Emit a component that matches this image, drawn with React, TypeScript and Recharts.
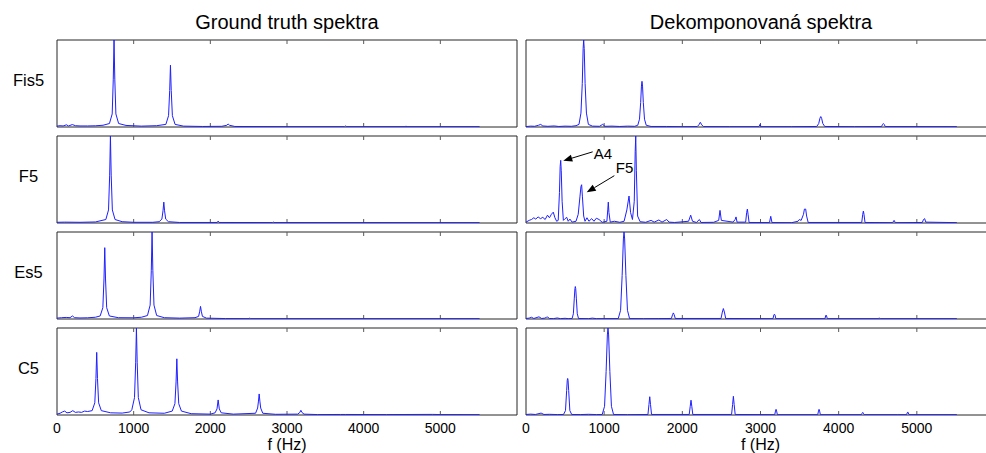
import React from 'react';
import { LineChart, Line, XAxis, YAxis, ReferenceLine, ReferenceArea } from 'recharts';

// ---------- tick labels, categories, titles ----------
const X_TICKS = [0, 1000, 2000, 3000, 4000, 5000];
const X_DOMAIN: [number, number] = [0, 6000];
const Y_DOMAIN: [number, number] = [0, 1];
const ROW_LABELS = ['Fis5', 'F5', 'Es5', 'C5'];
const COLUMN_TITLES = ['Ground truth spektra', 'Dekomponovaná spektra'];
const X_TITLE = 'f (Hz)';

// ---------- ground truth spectra: [frequency Hz, normalised magnitude] ----------
const GT_FIS5: [number, number][] = [
  [0, 0.01], [40, 0.015], [80, 0.012], [123, 0.025], [150, 0.012], [200, 0.028], [240, 0.015], [300, 0.012],
  [400, 0.012], [500, 0.014], [600, 0.02], [684, 0.04], [720, 0.15], [734, 0.55], [744, 1.0], [754, 0.55],
  [768, 0.15], [804, 0.04], [900, 0.018], [1100, 0.01], [1300, 0.015], [1420, 0.03], [1455, 0.13], [1470, 0.42],
  [1480, 0.71], [1490, 0.42], [1505, 0.13], [1540, 0.03], [1650, 0.01], [1900, 0.006], [2150, 0.008], [2215, 0.02],
  [2232, 0.035], [2250, 0.02], [2320, 0.006], [3000, 0.004], [3750, 0.004], [3765, 0.012], [3780, 0.004],
  [4540, 0.004], [4552, 0.01], [4565, 0.004], [5512, 0.004],
];
const GT_F5: [number, number][] = [
  [0, 0.008], [100, 0.01], [300, 0.008], [500, 0.012], [637, 0.04], [672, 0.15], [687, 0.55], [697, 1.0],
  [707, 0.55], [722, 0.15], [757, 0.04], [850, 0.015], [1000, 0.008], [1250, 0.008], [1333, 0.015], [1368, 0.045],
  [1383, 0.14], [1393, 0.24], [1403, 0.14], [1418, 0.045], [1453, 0.015], [1600, 0.006], [2090, 0.006],
  [2102, 0.022], [2114, 0.006], [2810, 0.005], [2820, 0.012], [2830, 0.005], [5512, 0.004],
];
const GT_ES5: [number, number][] = [
  [0, 0.01], [60, 0.015], [120, 0.018], [170, 0.015], [201, 0.035], [230, 0.015], [300, 0.012], [400, 0.014],
  [500, 0.02], [563, 0.035], [598, 0.13], [613, 0.46], [623, 0.82], [633, 0.46], [648, 0.13], [683, 0.035],
  [800, 0.015], [1000, 0.014], [1100, 0.02], [1180, 0.04], [1215, 0.16], [1230, 0.56], [1240, 1.0], [1250, 0.56],
  [1265, 0.16], [1300, 0.04], [1400, 0.015], [1600, 0.01], [1800, 0.015], [1847, 0.03], [1862, 0.09], [1872, 0.145],
  [1882, 0.09], [1897, 0.03], [1950, 0.01], [2200, 0.005], [2505, 0.004], [2516, 0.012], [2527, 0.004], [5512, 0.004],
];
const GT_C5: [number, number][] = [
  [0, 0.01], [40, 0.02], [70, 0.035], [100, 0.045], [130, 0.025], [170, 0.03], [206, 0.05], [240, 0.03],
  [280, 0.035], [320, 0.03], [360, 0.045], [400, 0.04], [458, 0.05], [493, 0.14], [508, 0.42], [518, 0.72],
  [528, 0.42], [543, 0.14], [578, 0.05], [700, 0.025], [850, 0.022], [950, 0.035], [976, 0.06], [1011, 0.2],
  [1026, 0.6], [1036, 1.0], [1046, 0.6], [1061, 0.2], [1096, 0.06], [1200, 0.025], [1400, 0.02], [1503, 0.045],
  [1538, 0.13], [1553, 0.38], [1563, 0.646], [1573, 0.38], [1588, 0.13], [1623, 0.045], [1750, 0.015], [2000, 0.01],
  [2062, 0.025], [2087, 0.07], [2102, 0.173], [2117, 0.07], [2142, 0.025], [2300, 0.01], [2590, 0.02], [2617, 0.08],
  [2628, 0.16], [2637, 0.242], [2646, 0.16], [2657, 0.08], [2684, 0.02], [2850, 0.008], [3140, 0.01], [3168, 0.03],
  [3181, 0.054], [3194, 0.03], [3222, 0.01], [3400, 0.005], [3700, 0.006], [3760, 0.006], [4300, 0.005],
  [4900, 0.007], [5000, 0.005], [5512, 0.004],
];

// ---------- decomposed spectra ----------
const DC_FIS5: [number, number][] = [
  [0, 0.005], [60, 0.01], [110, 0.008], [160, 0.02], [188, 0.03], [215, 0.012], [280, 0.008], [360, 0.012],
  [420, 0.006], [500, 0.01], [580, 0.008], [640, 0.015], [678, 0.03], [703, 0.16], [720, 0.5], [731, 0.9],
  [738, 1.0], [745, 0.9], [756, 0.5], [773, 0.16], [798, 0.03], [850, 0.01], [940, 0.008], [981, 0.03],
  [1010, 0.008], [1100, 0.01], [1200, 0.006], [1300, 0.01], [1390, 0.008], [1430, 0.02], [1452, 0.09],
  [1467, 0.28], [1477, 0.47], [1484, 0.525], [1491, 0.47], [1501, 0.28], [1516, 0.09], [1538, 0.02], [1600, 0.006],
  [1800, 0.006], [2000, 0.004], [2190, 0.005], [2212, 0.025], [2230, 0.054], [2248, 0.025], [2270, 0.005],
  [2600, 0.004], [2980, 0.004], [2994, 0.03], [3008, 0.004], [3400, 0.004], [3720, 0.006], [3745, 0.04],
  [3760, 0.1], [3771, 0.12], [3782, 0.1], [3797, 0.04], [3822, 0.006], [4200, 0.004], [4548, 0.005],
  [4562, 0.03], [4572, 0.04], [4582, 0.03], [4596, 0.005], [5512, 0.004],
];
const DC_F5: [number, number][] = [
  [0, 0.01], [40, 0.03], [70, 0.04], [100, 0.06], [125, 0.045], [155, 0.07], [185, 0.05], [215, 0.065],
  [245, 0.04], [275, 0.09], [300, 0.06], [325, 0.1], [349, 0.125], [370, 0.06], [392, 0.02], [412, 0.03],
  [428, 0.35], [437, 0.65], [444, 0.72], [451, 0.6], [462, 0.25], [478, 0.03], [500, 0.05], [521, 0.065],
  [540, 0.02], [562, 0.045], [590, 0.01], [640, 0.02], [668, 0.1], [690, 0.3], [703, 0.42], [712, 0.44],
  [722, 0.3], [738, 0.08], [755, 0.02], [780, 0.06], [805, 0.02], [840, 0.05], [870, 0.02], [900, 0.055],
  [935, 0.04], [975, 0.008], [1035, 0.02], [1046, 0.15], [1053, 0.24], [1061, 0.12], [1078, 0.01], [1130, 0.02],
  [1200, 0.008], [1255, 0.02], [1290, 0.15], [1318, 0.31], [1338, 0.12], [1362, 0.04], [1385, 0.25], [1397, 0.82],
  [1404, 1.0], [1412, 0.6], [1428, 0.08], [1460, 0.015], [1530, 0.008], [1600, 0.03], [1640, 0.01], [1700, 0.035],
  [1740, 0.01], [1800, 0.04], [1830, 0.01], [1900, 0.006], [2080, 0.02], [2107, 0.09], [2130, 0.02], [2180, 0.006],
  [2218, 0.04], [2240, 0.006], [2400, 0.008], [2465, 0.03], [2482, 0.145], [2499, 0.03], [2650, 0.01],
  [2675, 0.04], [2687, 0.07], [2700, 0.01], [2810, 0.01], [2823, 0.12], [2832, 0.16], [2841, 0.1], [2854, 0.006],
  [3115, 0.005], [3131, 0.077], [3147, 0.005], [3400, 0.004], [3480, 0.02], [3497, 0.04], [3520, 0.03],
  [3550, 0.1], [3562, 0.16], [3578, 0.16], [3590, 0.08], [3610, 0.006], [4295, 0.006], [4308, 0.1], [4316, 0.137],
  [4324, 0.1], [4337, 0.006], [4690, 0.004], [4709, 0.03], [4725, 0.004], [5070, 0.006], [5085, 0.04],
  [5100, 0.05], [5115, 0.01], [5512, 0.004],
];
const DC_ES5: [number, number][] = [
  [0, 0.006], [40, 0.01], [70, 0.02], [100, 0.006], [166, 0.025], [200, 0.006], [240, 0.01], [263, 0.02],
  [278, 0.022], [300, 0.006], [350, 0.004], [400, 0.012], [440, 0.004], [500, 0.008], [540, 0.004], [590, 0.006],
  [606, 0.06], [618, 0.24], [626, 0.35], [631, 0.373], [636, 0.35], [644, 0.24], [656, 0.06], [672, 0.006],
  [800, 0.004], [850, 0.01], [900, 0.004], [1180, 0.005], [1210, 0.1], [1230, 0.5], [1246, 0.92], [1254, 1.0],
  [1262, 0.92], [1278, 0.5], [1298, 0.1], [1325, 0.005], [1500, 0.004], [1700, 0.005], [1860, 0.006], [1875, 0.05],
  [1885, 0.07], [1895, 0.05], [1910, 0.006], [2495, 0.006], [2512, 0.08], [2525, 0.12], [2538, 0.08], [2555, 0.006],
  [3160, 0.004], [3170, 0.045], [3178, 0.055], [3186, 0.045], [3196, 0.004], [3825, 0.004], [3833, 0.035],
  [3839, 0.045], [3845, 0.035], [3855, 0.004], [4505, 0.004], [4517, 0.012], [4530, 0.004], [5512, 0.004],
];
const DC_C5: [number, number][] = [
  [0, 0.006], [60, 0.01], [120, 0.006], [193, 0.022], [230, 0.006], [300, 0.008], [400, 0.005], [480, 0.006],
  [505, 0.05], [520, 0.28], [528, 0.4], [533, 0.42], [538, 0.4], [546, 0.28], [561, 0.05], [585, 0.006],
  [700, 0.005], [800, 0.008], [900, 0.005], [975, 0.006], [1005, 0.1], [1025, 0.5], [1041, 0.92], [1049, 1.0],
  [1057, 0.92], [1073, 0.5], [1093, 0.1], [1120, 0.006], [1300, 0.004], [1560, 0.006], [1573, 0.12], [1583, 0.21],
  [1593, 0.12], [1606, 0.006], [2088, 0.006], [2101, 0.1], [2111, 0.17], [2121, 0.1], [2134, 0.006], [2630, 0.006],
  [2643, 0.12], [2653, 0.215], [2663, 0.12], [2676, 0.006], [3182, 0.004], [3192, 0.045], [3199, 0.065],
  [3206, 0.045], [3216, 0.004], [3732, 0.004], [3742, 0.045], [3749, 0.065], [3756, 0.045], [3766, 0.004],
  [4290, 0.004], [4300, 0.02], [4308, 0.03], [4316, 0.02], [4326, 0.004], [4750, 0.004], [4760, 0.008],
  [4770, 0.004], [4868, 0.004], [4878, 0.025], [4884, 0.035], [4890, 0.025], [4900, 0.004], [5512, 0.004],
];

// annotations in the decomposed F5 panel (data coordinates)
const F5_ANNOTATIONS = [
  { text: 'A4', from: { f: 853, a: 0.818 }, to: { f: 477, a: 0.715 }, dx: 1, dy: 7.5 },
  { text: 'F5', from: { f: 1130, a: 0.544 }, to: { f: 777, a: 0.353 }, dx: 1.5, dy: -2.5 },
];

// ---------- layout / styling ----------
const FRAME = '#262626';
const TICK = '#5a5a5a';
const LINE = '#1f1fff';
const FONT = '"Liberation Sans", Arial, Helvetica, sans-serif';
const COLS = [
  { x: 57, w: 460, titleX: 287 },
  { x: 526, w: 469, titleX: 761 },
];
const ROW_TOPS = [40, 136, 232, 328];
const ROW_H = 87;
const LABEL_BASELINES = [85.7, 181.5, 278, 374];
const PAD = 12;
const TICK_LEN = 0.046; // inward tick length as fraction of the y range

const ROWS = [
  { gt: GT_FIS5, dc: DC_FIS5, ann: [] as typeof F5_ANNOTATIONS },
  { gt: GT_F5, dc: DC_F5, ann: F5_ANNOTATIONS },
  { gt: GT_ES5, dc: DC_ES5, ann: [] as typeof F5_ANNOTATIONS },
  { gt: GT_C5, dc: DC_C5, ann: [] as typeof F5_ANNOTATIONS },
];

const toRows = (pts: [number, number][]) => pts.map(([f, a]) => ({ f, a }));

const makeArrow = (text: string, dx: number, dy: number) => (p: any) => {
  const { x1, y1, x2, y2 } = p;
  const ang = Math.atan2(y2 - y1, x2 - x1);
  const L = 9;
  const w = 3.5;
  const bx = x2 - L * Math.cos(ang);
  const by = y2 - L * Math.sin(ang);
  const px = -Math.sin(ang) * w;
  const py = Math.cos(ang) * w;
  return (
    <g>
      <line x1={x1} y1={y1} x2={bx} y2={by} stroke="#000" strokeWidth={1} />
      <polygon points={`${x2},${y2} ${bx + px},${by + py} ${bx - px},${by - py}`} fill="#000" />
      <text x={x1 + dx} y={y1 + dy} fontSize={15} fill="#000" fontFamily={FONT}>
        {text}
      </text>
    </g>
  );
};

function Panel(props: {
  pts: [number, number][];
  left: number;
  top: number;
  width: number;
  height: number;
  showTicks: boolean;
  ann: typeof F5_ANNOTATIONS;
}) {
  const { pts, left, top, width, height, showTicks, ann } = props;
  const extra = showTicks ? 32 : 0;
  const data = toRows(pts);
  const inner = X_TICKS.filter((t) => t > X_DOMAIN[0] && t < X_DOMAIN[1]);
  return (
    <div style={{ position: 'absolute', left: left - PAD, top: top - 2 }}>
      <LineChart
        width={width + 2 * PAD}
        height={height + 4 + extra}
        data={data}
        margin={{ top: 2, right: PAD, bottom: 2, left: PAD }}
      >
        <XAxis
          dataKey="f"
          type="number"
          domain={X_DOMAIN}
          ticks={X_TICKS}
          interval={0}
          allowDataOverflow
          height={extra}
          tickSize={0}
          tickMargin={8.5}
          tick={showTicks ? { fontSize: 14, fill: '#000' } : false}
          axisLine={false}
          tickLine={false}
        />
        <YAxis type="number" domain={Y_DOMAIN} allowDataOverflow width={0} hide />
        <ReferenceArea
          x1={X_DOMAIN[0]}
          x2={X_DOMAIN[1]}
          y1={Y_DOMAIN[0]}
          y2={Y_DOMAIN[1]}
          fill="none"
          fillOpacity={0}
          stroke={FRAME}
          strokeWidth={1}
          ifOverflow="visible"
        />
        {inner.map((t) => (
          <ReferenceLine
            key={`b${t}`}
            segment={[
              { x: t, y: Y_DOMAIN[0] },
              { x: t, y: Y_DOMAIN[0] + TICK_LEN },
            ]}
            stroke={TICK}
            strokeWidth={1}
            ifOverflow="visible"
          />
        ))}
        {inner.map((t) => (
          <ReferenceLine
            key={`t${t}`}
            segment={[
              { x: t, y: Y_DOMAIN[1] },
              { x: t, y: Y_DOMAIN[1] - TICK_LEN },
            ]}
            stroke={TICK}
            strokeWidth={1}
            ifOverflow="visible"
          />
        ))}
        <Line
          type="linear"
          dataKey="a"
          stroke={LINE}
          strokeWidth={1}
          dot={false}
          activeDot={false}
          isAnimationActive={false}
        />
        {ann.map((an) => (
          <ReferenceLine
            key={an.text}
            segment={[
              { x: an.from.f, y: an.from.a },
              { x: an.to.f, y: an.to.a },
            ]}
            ifOverflow="visible"
            shape={makeArrow(an.text, an.dx, an.dy)}
          />
        ))}
      </LineChart>
    </div>
  );
}

export default function App() {
  return (
    <div
      style={{
        position: 'absolute',
        left: 0,
        top: 0,
        width: 986,
        height: 453,
        overflow: 'hidden',
        background: '#fff',
        fontFamily: FONT,
      }}
    >
      <svg width={986} height={453} style={{ position: 'absolute', left: 0, top: 0 }} fontFamily={FONT}>
        {COLUMN_TITLES.map((t, i) => (
          <text key={t} x={COLS[i].titleX} y={29.3} textAnchor="middle" fontSize={20} fill="#000">
            {t}
          </text>
        ))}
        {ROW_LABELS.map((t, i) => (
          <text key={t} x={28.5} y={LABEL_BASELINES[i]} textAnchor="middle" fontSize={16.5} fill="#000">
            {t}
          </text>
        ))}
        {COLS.map((c, i) => (
          <text key={i} x={c.x + c.w / 2} y={449.5} textAnchor="middle" fontSize={16} fill="#000">
            {X_TITLE}
          </text>
        ))}
      </svg>
      {ROWS.map((r, ri) =>
        COLS.map((c, ci) => (
          <Panel
            key={`${ri}-${ci}`}
            pts={ci === 0 ? r.gt : r.dc}
            left={c.x}
            top={ROW_TOPS[ri]}
            width={c.w}
            height={ROW_H}
            showTicks={ri === ROWS.length - 1}
            ann={ci === 1 ? r.ann : []}
          />
        ))
      )}
    </div>
  );
}
